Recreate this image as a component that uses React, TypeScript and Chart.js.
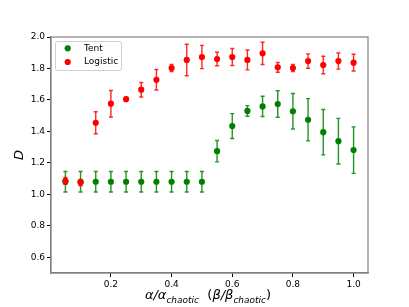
import React, { useEffect, useRef } from "react";
import { Chart, registerables } from "chart.js";

Chart.register(...registerables);

const xValues = [0.05, 0.1, 0.15, 0.2, 0.25, 0.3, 0.35, 0.4, 0.45, 0.5, 0.55, 0.6, 0.65, 0.7, 0.75, 0.8, 0.85, 0.9, 0.95, 1.0];
const tentValues = [1.08, 1.08, 1.08, 1.08, 1.08, 1.08, 1.08, 1.08, 1.08, 1.08, 1.274, 1.434, 1.53, 1.559, 1.574, 1.528, 1.474, 1.395, 1.338, 1.281];
const tentErrors = [0.065, 0.065, 0.065, 0.065, 0.065, 0.065, 0.065, 0.065, 0.065, 0.065, 0.068, 0.079, 0.034, 0.064, 0.084, 0.113, 0.134, 0.144, 0.145, 0.148];
const logisticValues = [1.086, 1.075, 1.455, 1.576, 1.605, 1.665, 1.728, 1.803, 1.854, 1.873, 1.86, 1.873, 1.854, 1.896, 1.807, 1.803, 1.847, 1.822, 1.847, 1.837];
const logisticErrors = [0.022, 0.02, 0.07, 0.084, 0.01, 0.046, 0.065, 0.022, 0.1, 0.074, 0.043, 0.054, 0.063, 0.071, 0.031, 0.022, 0.046, 0.056, 0.051, 0.053];
const xTicks = [0.2, 0.4, 0.6, 0.8, 1.0];
const yTicks = [0.6, 0.8, 1.0, 1.2, 1.4, 1.6, 1.8, 2.0];
const seriesNames = ["Tent", "Logistic"];
const seriesColors = ["#008000", "#ff0000"];
const errColors = ["rgba(0,128,0,0.85)", "rgba(255,0,0,0.85)"];

const FONT = "'DejaVu Sans', sans-serif";

const errorBarPlugin = {
  id: "errorBars",
  beforeDatasetDraw(chart: any, args: any) {
    const ds = chart.data.datasets[args.index];
    const errs: number[] = ds.errors;
    if (!errs) return;
    const xs = chart.scales.x;
    const ys = chart.scales.y;
    const ctx = chart.ctx;
    ctx.save();
    ctx.strokeStyle = ds.errColor;
    ctx.lineWidth = 1.4;
    ds.data.forEach((p: any, i: number) => {
      const px = xs.getPixelForValue(p.x);
      const y1 = ys.getPixelForValue(p.y - errs[i]);
      const y2 = ys.getPixelForValue(p.y + errs[i]);
      ctx.beginPath();
      ctx.moveTo(px, y1);
      ctx.lineTo(px, y2);
      ctx.moveTo(px - 2, y1);
      ctx.lineTo(px + 2, y1);
      ctx.moveTo(px - 2, y2);
      ctx.lineTo(px + 2, y2);
      ctx.stroke();
    });
    ctx.restore();
  },
};

const decorPlugin = {
  id: "decor",
  afterDraw(chart: any) {
    const ctx = chart.ctx;
    const ca = chart.chartArea;
    ctx.save();
    // frame
    ctx.strokeStyle = "#808080";
    ctx.lineWidth = 1.2;
    ctx.strokeRect(ca.left, ca.top, ca.right - ca.left, ca.bottom - ca.top);

    // legend
    const lx = 55, ly = 41, lw = 66, lh = 29;
    ctx.beginPath();
    if (ctx.roundRect) ctx.roundRect(lx + 0.5, ly + 0.5, lw, lh, 2);
    else ctx.rect(lx + 0.5, ly + 0.5, lw, lh);
    ctx.fillStyle = "rgba(255,255,255,0.8)";
    ctx.fill();
    ctx.strokeStyle = "#d0d0d0";
    ctx.lineWidth = 1;
    ctx.stroke();
    const rows = [48.3, 62];
    ctx.font = `9px ${FONT}`;
    ctx.textBaseline = "middle";
    ctx.textAlign = "left";
    seriesNames.forEach((name, i) => {
      ctx.beginPath();
      ctx.arc(67.7, rows[i], 3.1, 0, Math.PI * 2);
      ctx.fillStyle = seriesColors[i];
      ctx.fill();
      ctx.fillStyle = "#000";
      ctx.fillText(name, 84, rows[i]);
    });

    // x title
    const main = `italic 13px ${FONT}`;
    const up = `13px ${FONT}`;
    const sub = `italic 9px ${FONT}`;
    const parts = [
      { t: "α/α", f: main, dy: 0 },
      { t: "chaotic", f: sub, dy: 3.5 },
      { t: "  (", f: up, dy: 0 },
      { t: "β/β", f: main, dy: 0 },
      { t: "chaotic", f: sub, dy: 3.5 },
      { t: ")", f: up, dy: 0 },
    ];
    let total = 0;
    parts.forEach((p) => {
      ctx.font = p.f;
      total += ctx.measureText(p.t).width;
    });
    let x = 208 - total / 2;
    const base = 299;
    ctx.textBaseline = "alphabetic";
    ctx.fillStyle = "#000";
    parts.forEach((p) => {
      ctx.font = p.f;
      ctx.fillText(p.t, x, base + p.dy);
      x += ctx.measureText(p.t).width;
    });

    // y title
    ctx.translate(20, 155);
    ctx.rotate(-Math.PI / 2);
    ctx.font = main;
    ctx.textAlign = "center";
    ctx.textBaseline = "middle";
    ctx.fillText("D", 0, 0);
    ctx.restore();
  },
};

export default function App() {
  const ref = useRef<HTMLCanvasElement | null>(null);
  useEffect(() => {
    if (!ref.current) return;
    const chart = new Chart(ref.current, {
      type: "scatter",
      data: {
        datasets: [
          {
            label: seriesNames[0],
            data: xValues.map((x, i) => ({ x, y: tentValues[i] })),
            errors: tentErrors,
            errColor: errColors[0],
            backgroundColor: seriesColors[0],
            borderColor: seriesColors[0],
            pointRadius: 3.1,
            borderWidth: 0,
            order: 2,
          } as any,
          {
            label: seriesNames[1],
            data: xValues.map((x, i) => ({ x, y: logisticValues[i] })),
            errors: logisticErrors,
            errColor: errColors[1],
            backgroundColor: seriesColors[1],
            borderColor: seriesColors[1],
            pointRadius: 3.1,
            borderWidth: 0,
            order: 1,
          } as any,
        ],
      },
      options: {
        animation: false,
        responsive: false,
        devicePixelRatio: 1,
        layout: { padding: { left: 0, top: 37, right: 41, bottom: 0 } },
        plugins: { legend: { display: false }, tooltip: { enabled: false } },
        scales: {
          x: {
            type: "linear",
            min: 0.0025,
            max: 1.0475,
            afterBuildTicks: (s: any) => {
              s.ticks = xTicks.map((v) => ({ value: v }));
            },
            afterFit: (s: any) => {
              s.height = 34;
            },
            ticks: {
              font: { family: FONT, size: 9 },
              color: "#000",
              padding: 2,
              maxRotation: 0,
              callback: (v: any) => Number(v).toFixed(1),
            },
            grid: { drawOnChartArea: false, drawTicks: true, tickLength: 4, color: "#000" },
            border: { color: "#808080", width: 1.2 },
          },
          y: {
            type: "linear",
            min: 0.5,
            max: 2.0,
            afterBuildTicks: (s: any) => {
              s.ticks = yTicks.map((v) => ({ value: v }));
            },
            afterFit: (s: any) => {
              s.width = 51;
            },
            ticks: {
              font: { family: FONT, size: 9 },
              color: "#000",
              padding: 2,
              callback: (v: any) => Number(v).toFixed(1),
            },
            grid: { drawOnChartArea: false, drawTicks: true, tickLength: 4, color: "#000" },
            border: { color: "#808080", width: 1.2 },
          },
        },
      },
      plugins: [errorBarPlugin, decorPlugin],
    } as any);
    return () => chart.destroy();
  }, []);
  return (
    <div style={{ position: "absolute", left: 0, top: 0, width: 409, height: 307, background: "#fff" }}>
      <canvas ref={ref} width={409} height={307} style={{ width: 409, height: 307 }} />
    </div>
  );
}
